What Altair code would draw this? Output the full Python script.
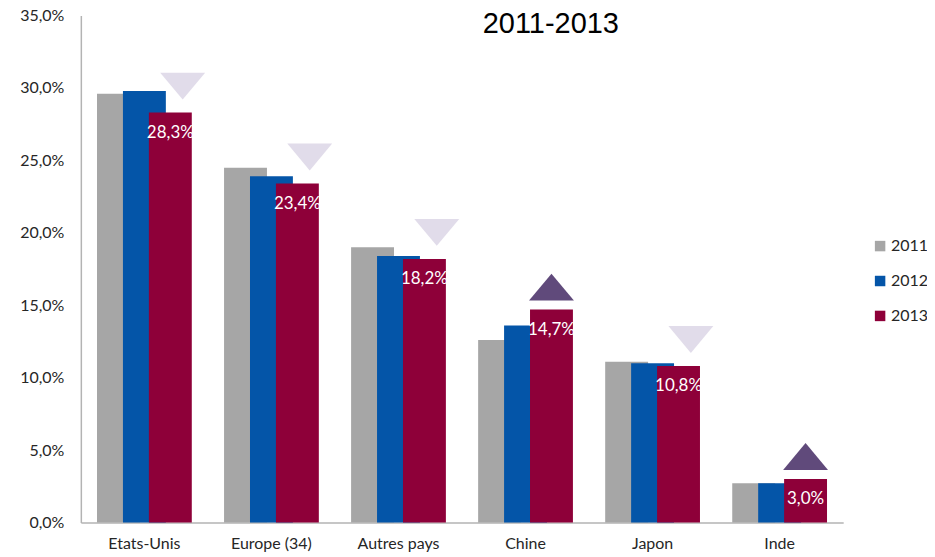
import altair as alt
import pandas as pd

categories = ["Etats-Unis", "Europe (34)", "Autres pays", "Chine", "Japon", "Inde"]
years = ["2011", "2012", "2013"]
v2011 = [29.6, 24.5, 19.0, 12.6, 11.1, 2.7]
v2012 = [29.8, 23.9, 18.4, 13.6, 11.0, 2.7]
v2013 = [28.3, 23.4, 18.2, 14.7, 10.8, 3.0]
colors = ["#A6A6A6", "#0455A8", "#8E0039"]
y_ticks = [0, 5, 10, 15, 20, 25, 30, 35]
title_line = "2011-2013"

rows = []
for i, c in enumerate(categories):
    for y, vals in zip(years, [v2011, v2012, v2013]):
        rows.append({"cat": c, "year": y, "value": vals[i]})
df = pd.DataFrame(rows)

d13 = pd.DataFrame({"cat": categories, "year": "2013", "value": v2013, "prev": v2012})
d13["dir"] = ["up" if a > b else "down" for a, b in zip(v2013, v2012)]
d13["label"] = [f"{v:.1f}".replace(".", ",") + "%" for v in v2013]

FONT = "Lato"

x_enc = alt.X("cat:N", sort=categories, title=None,
              scale=alt.Scale(paddingInner=0.3875, paddingOuter=0.194),
              axis=alt.Axis(labelAngle=0, labelFontSize=16, labelFont=FONT, labelColor="#262626",
                            labelPadding=13, ticks=False, domainColor="#B3B3B3", domainWidth=1.5))
xoff = alt.XOffset("year:N", scale=alt.Scale(domain=years, paddingInner=0, paddingOuter=0))
y_enc = alt.Y("value:Q", title=None,
              scale=alt.Scale(domain=[0, 35], nice=False),
              axis=alt.Axis(values=y_ticks, grid=False, ticks=False, labelPadding=17,
                            labelFontSize=16, labelFont=FONT, labelColor="#262626",
                            domainColor="#B3B3B3", domainWidth=1.5,
                            labelExpr="replace(format(datum.value, '.1f'), '.', ',') + '%'"))

bars = alt.Chart(df).mark_bar(width=43).encode(
    x=x_enc, xOffset=xoff, y=y_enc,
    color=alt.Color("year:N", scale=alt.Scale(domain=years, range=colors),
                    legend=alt.Legend(title=None, orient="none", legendX=793, legendY=223,
                                      symbolType="square", symbolSize=110, symbolStrokeWidth=0,
                                      labelFontSize=16, labelFont=FONT, labelColor="#262626",
                                      labelOffset=3, rowPadding=19, padding=0)),
)

labels = alt.Chart(d13).mark_text(color="white", fontSize=17, font=FONT, baseline="middle", dy=20).encode(
    x=alt.X("cat:N", sort=categories), xOffset=xoff, y="value:Q", text="label:N")

down = alt.Chart(d13).transform_filter("datum.dir == 'down'").mark_point(
    shape="M-0.45,-1.78L1.55,-1.78L0.55,-0.58Z", size=2025, filled=True, opacity=1,
    color="#E1DCEA", strokeWidth=0).encode(
    x=alt.X("cat:N", sort=categories), xOffset=xoff, y="value:Q")

up = alt.Chart(d13).transform_filter("datum.dir == 'up'").mark_point(
    shape="M-1,-0.4L1,-0.4L0,-1.6Z", size=2025, filled=True, opacity=1,
    color="#604A7B", strokeWidth=0).encode(
    x=alt.X("cat:N", sort=categories), xOffset=xoff, y="value:Q")

title = alt.Chart(pd.DataFrame({"t": [title_line]})).mark_text(
    font="Liberation Sans", fontSize=29, color="black", align="center", baseline="alphabetic").encode(
    x=alt.value(471), y=alt.value(17), text="t:N")

chart = alt.layer(bars, labels, down, up, title).properties(
    width=764, height=508,
    autosize=alt.AutoSizeParams(type="none"),
    padding={"left": 73, "top": 7, "right": 84, "bottom": 34},
    background="white",
).configure_view(stroke=None)

chart.save("out.html", embed_options={"renderer": "svg", "actions": False})
